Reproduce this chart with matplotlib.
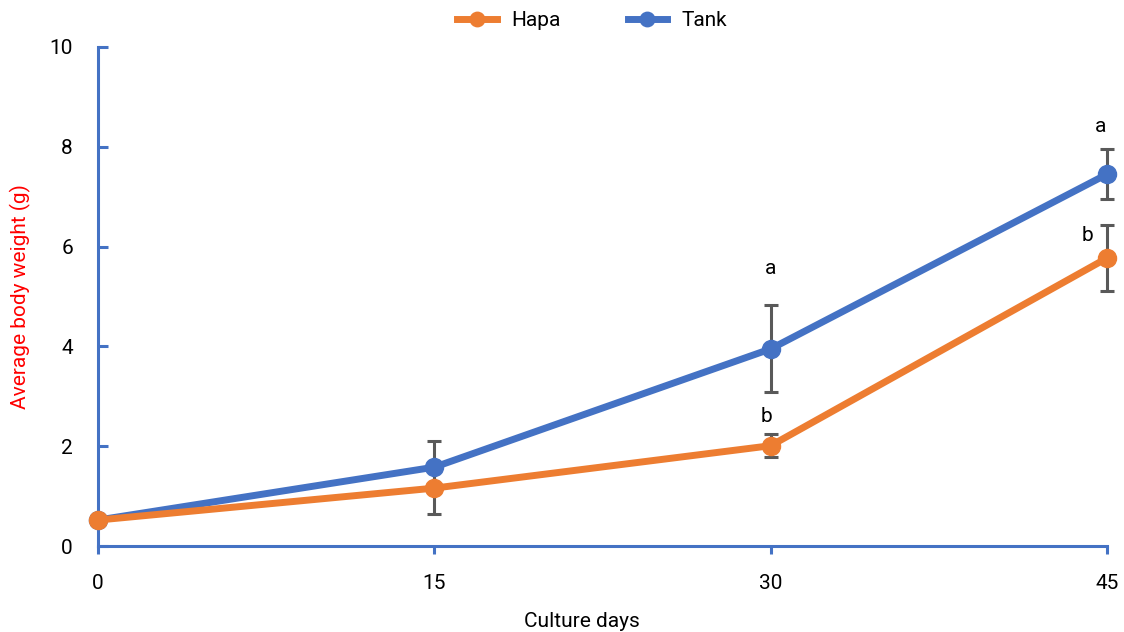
import matplotlib
matplotlib.use("Agg")
import matplotlib.pyplot as plt

days = [0, 15, 30, 45]
hapa = [0.52, 1.16, 2.01, 5.77]
hapa_err = [0.0, 0.52, 0.23, 0.66]
tank = [0.52, 1.58, 3.95, 7.45]
tank_err = [0.0, 0.52, 0.87, 0.50]
hapa_letters = ["", "", "b", "b"]
tank_letters = ["", "", "a", "a"]

plt.rcParams["font.family"] = ["Roboto", "DejaVu Sans"]

BLUE = "#4472C4"
ORANGE = "#ED7D31"
GREY = "#595959"
FS = 15

fig = plt.figure(figsize=(11.24, 6.32), dpi=100)
ax = fig.add_axes([98/1124, 1-546/632, (1107-98)/1124, (546-47)/632])

ax.errorbar(days, tank, yerr=tank_err, fmt="none", ecolor=GREY, elinewidth=2.2,
            capsize=5, capthick=2.2, zorder=1, clip_on=False)
ax.errorbar(days, hapa, yerr=hapa_err, fmt="none", ecolor=GREY, elinewidth=2.2,
            capsize=5, capthick=2.2, zorder=1, clip_on=False)
ax.plot(days, tank, color=BLUE, lw=5, marker="o", ms=13, label="Tank", zorder=2, clip_on=False)
ax.plot(days, hapa, color=ORANGE, lw=5, marker="o", ms=13, label="Hapa", zorder=3, clip_on=False)

# significance letters
for x, y, e, t in zip(days, tank, tank_err, tank_letters):
    if t:
        ax.text(x - (0 if x < 45 else 0.3), y + e + (0.75 if x == 30 else 0.45), t,
                ha="center", va="center", fontsize=FS)
for x, y, e, t in zip(days, hapa, hapa_err, hapa_letters):
    if t:
        if x == 45:
            ax.text(x - 0.85, y + e - 0.2, t, ha="center", va="center", fontsize=FS)
        else:
            ax.text(x - 0.2, y + e + 0.35, t, ha="center", va="center", fontsize=FS)

ax.set_xlim(0, 45)
ax.set_ylim(0, 10)
ax.set_xticks(days)
ax.set_yticks([0, 2, 4, 6, 8, 10])
for s in ["top", "right"]:
    ax.spines[s].set_visible(False)
for s in ["left", "bottom"]:
    ax.spines[s].set_color(BLUE)
    ax.spines[s].set_linewidth(2.2)
ax.tick_params(axis="y", direction="in", length=7, width=2.2, color=BLUE, labelsize=FS, pad=18)
ax.tick_params(axis="x", direction="out", length=6, width=2.2, color=BLUE, labelsize=FS, pad=14)
ax.set_ylabel("Average body weight (g)", color="red", fontsize=FS)
ax.yaxis.set_label_coords(-0.066, 0.5)
ax.set_xlabel("Culture days", fontsize=FS)
ax.xaxis.set_label_coords(0.48, -0.132)

h, l = ax.get_legend_handles_labels()
fig.legend(h[::-1], l[::-1], loc="upper center", bbox_to_anchor=(0.527, 1.012), ncol=2,
           frameon=False, fontsize=FS, handlelength=1.9, handletextpad=0.7,
           columnspacing=3.2, markerscale=0.8)

fig.savefig("out.png", dpi=100)
